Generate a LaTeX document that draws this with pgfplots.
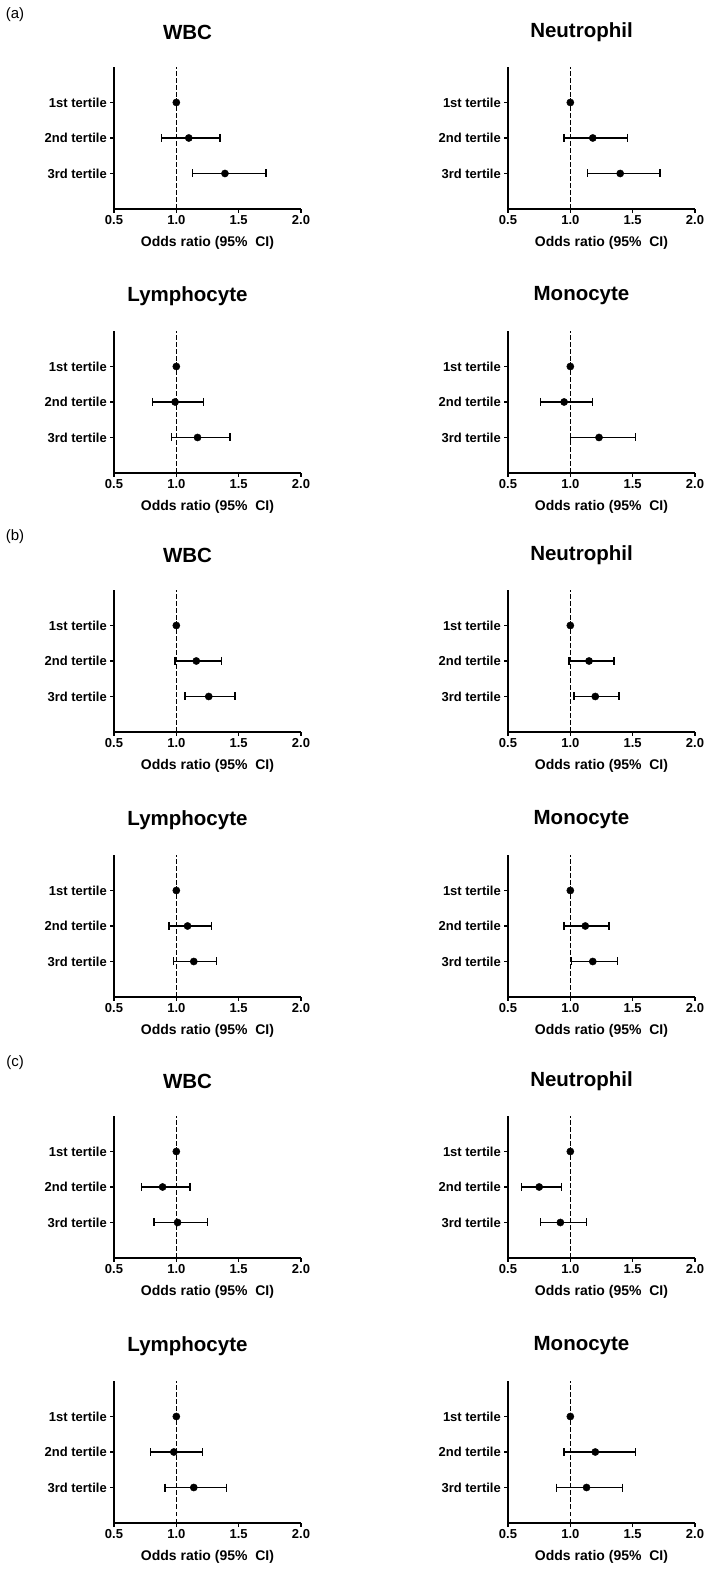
\documentclass[border=0pt]{standalone}
\usepackage{fontspec}
\setmainfont{Liberation Sans}
\usepackage{pgfplots}
\usepackage{pgfplotstable}
\pgfplotsset{compat=1.18}

% columns: y (3 = 1st, 2 = 2nd, 1 = 3rd tertile), odds ratio, lower, upper
\pgfplotstableread[row sep=\\]{y or lo hi\\ 3 1 1 1\\ 2 1.10 0.88 1.35\\ 1 1.39 1.13 1.72\\}\aWBC
\pgfplotstableread[row sep=\\]{y or lo hi\\ 3 1 1 1\\ 2 1.18 0.95 1.46\\ 1 1.40 1.14 1.72\\}\aNeu
\pgfplotstableread[row sep=\\]{y or lo hi\\ 3 1 1 1\\ 2 0.99 0.81 1.22\\ 1 1.17 0.96 1.43\\}\aLym
\pgfplotstableread[row sep=\\]{y or lo hi\\ 3 1 1 1\\ 2 0.95 0.76 1.18\\ 1 1.23 1.00 1.52\\}\aMon
\pgfplotstableread[row sep=\\]{y or lo hi\\ 3 1 1 1\\ 2 1.16 0.99 1.36\\ 1 1.26 1.07 1.47\\}\bWBC
\pgfplotstableread[row sep=\\]{y or lo hi\\ 3 1 1 1\\ 2 1.15 0.99 1.35\\ 1 1.20 1.03 1.39\\}\bNeu
\pgfplotstableread[row sep=\\]{y or lo hi\\ 3 1 1 1\\ 2 1.09 0.94 1.28\\ 1 1.14 0.98 1.32\\}\bLym
\pgfplotstableread[row sep=\\]{y or lo hi\\ 3 1 1 1\\ 2 1.12 0.95 1.31\\ 1 1.18 1.01 1.38\\}\bMon
\pgfplotstableread[row sep=\\]{y or lo hi\\ 3 1 1 1\\ 2 0.89 0.72 1.11\\ 1 1.01 0.82 1.25\\}\cWBC
\pgfplotstableread[row sep=\\]{y or lo hi\\ 3 1 1 1\\ 2 0.75 0.61 0.93\\ 1 0.92 0.76 1.13\\}\cNeu
\pgfplotstableread[row sep=\\]{y or lo hi\\ 3 1 1 1\\ 2 0.98 0.79 1.21\\ 1 1.14 0.91 1.40\\}\cLym
\pgfplotstableread[row sep=\\]{y or lo hi\\ 3 1 1 1\\ 2 1.20 0.95 1.52\\ 1 1.13 0.89 1.42\\}\cMon

\pgfplotsset{
  forest/.style={
    scale only axis, width=187pt, height=142pt,
    xmin=0.5, xmax=2.0, ymin=0, ymax=4,
    axis lines*=left,
    axis line style={line width=1.8pt, black},
    xtick={0.5,1,1.5,2}, xticklabels={0.5,1.0,1.5,2.0},
    ytick={1,2,3}, yticklabels={3rd tertile,2nd tertile,1st tertile},
    tick align=outside, major tick length=4pt,
    tick style={line width=1.6pt, black},
    ticklabel style={font=\bfseries\fontsize{13}{15}\selectfont},
    xticklabel style={inner sep=2pt},
    yticklabel style={inner sep=3pt},
    xlabel={Odds ratio (95\%~~CI)},
    xlabel style={font=\bfseries\fontsize{14}{16}\selectfont, at={(axis description cs:0.5,0)}, anchor=center, yshift=-34pt},
    title style={font=\bfseries\fontsize{20.5}{24}\selectfont, at={(axis description cs:0.393,1)}, anchor=center, yshift=29pt},
    clip=false,
    anchor=south west,
  },
  ref/.style={black, line width=1.2pt, dash pattern=on 4.5pt off 2.5pt},
  ors/.style={black, only marks, mark=*, mark size=3.6pt, mark options={fill=black, draw=black},
    error bars/.cd, x dir=both, x explicit,
    error mark=none,
    error bar style={line width=1.3pt, black}},
  caps/.style={black, only marks, mark=|, mark size=4pt, mark options={line width=1.3pt}},
}
\newcommand{\forestplot}[4]{%
  \begin{axis}[forest, at={(#1pt,#2pt)}, title={#3}]
    \addplot[ref] coordinates {(1,0) (1,4)};
    \addplot[caps] table[x=lo, y=y] {#4};
    \addplot[caps] table[x=hi, y=y] {#4};
    \addplot[ors] table[x=or, y=y, x error plus expr=\thisrow{hi}-\thisrow{or}, x error minus expr=\thisrow{or}-\thisrow{lo}] {#4};
  \end{axis}}

\begin{document}
\begin{tikzpicture}
  \path[use as bounding box, fill=white] (0pt,0pt) rectangle (709pt,1569pt);
  \node[font=\fontsize{15}{17}\selectfont] at (15pt,1554pt) {(a)};
  \node[font=\fontsize{15}{17}\selectfont] at (15pt,1032pt) {(b)};
  \node[font=\fontsize{15}{17}\selectfont] at (15pt,506pt) {(c)};
  \forestplot{114}{1360}{WBC}{\aWBC}
  \forestplot{508}{1360}{Neutrophil}{\aNeu}
  \forestplot{114}{1096}{Lymphocyte}{\aLym}
  \forestplot{508}{1096}{Monocyte}{\aMon}
  \forestplot{114}{837}{WBC}{\bWBC}
  \forestplot{508}{837}{Neutrophil}{\bNeu}
  \forestplot{114}{572}{Lymphocyte}{\bLym}
  \forestplot{508}{572}{Monocyte}{\bMon}
  \forestplot{114}{311}{WBC}{\cWBC}
  \forestplot{508}{311}{Neutrophil}{\cNeu}
  \forestplot{114}{46}{Lymphocyte}{\cLym}
  \forestplot{508}{46}{Monocyte}{\cMon}
\end{tikzpicture}
\end{document}
